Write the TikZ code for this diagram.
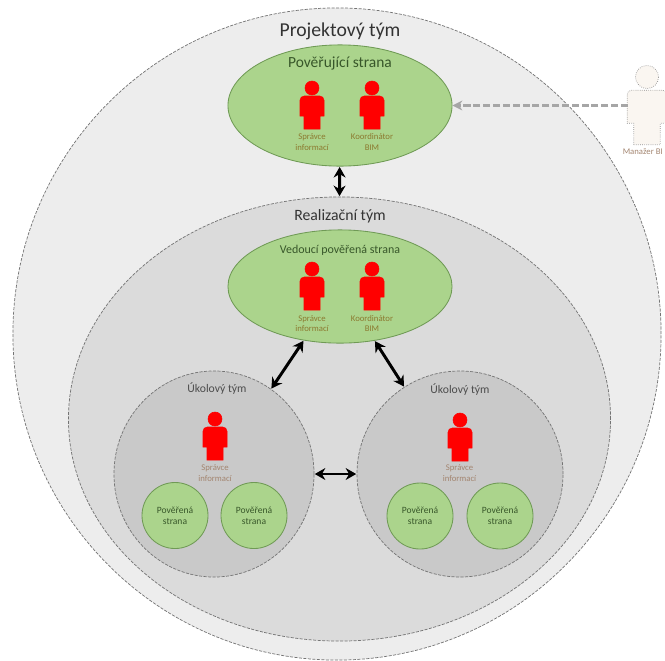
\documentclass[tikz,border=0pt]{standalone}
\usepackage{fontspec}
\setmainfont{Carlito}
\usetikzlibrary{arrows.meta,shapes.geometric}
\definecolor{teamgreen}{HTML}{ABD48C}
\definecolor{greenline}{HTML}{6F9A55}
\definecolor{titlegreen}{HTML}{38572A}
\definecolor{roleolive}{HTML}{8C7A30}
\definecolor{rolebrown}{HTML}{A38570}
\def\personfig[#1](#2,#3)(#4){\begin{scope}[shift={(#2,#3)},scale=#4]
	\draw[#1] (0,0) circle (7);
	\draw[#1] (-8,41) -- (-8,28) -- (-12,28) [rounded corners=3] -- (-12,8) -- (12,8) [sharp corners] -- (12,28) -- (8,28) -- (8,41) -- cycle;
\end{scope}}
\tikzset{
	zone/.style={ellipse,draw=black!55,dash pattern=on 2.2pt off 1pt,line width=0.5pt,inner sep=0pt},
	party/.style={ellipse,draw=greenline,fill=teamgreen,line width=0.6pt,inner sep=0pt},
	smallparty/.style={party,minimum width=1.65cm,minimum height=1.65cm,align=center,text=titlegreen,font=\fontsize{6.8}{8}\selectfont},
	role/.style={align=center,text=roleolive,font=\fontsize{6.2}{7.6}\selectfont},
	link/.style={<->,>={Stealth[length=7.5pt,width=8.5pt]},line width=2.1pt,shorten >=0.3pt,shorten <=0.3pt},
}
\begin{document}
\begin{tikzpicture}[x=0.025cm,y=-0.025cm]
			%%%%% START %%%%%
			\clip (0,0) rectangle (665,660);
			
			\node[zone,fill=black!7,minimum width=16.2cm,minimum height=16.3cm] (project) at (337,334) {};
			\node[zone,fill=black!14,minimum width=13.55cm,minimum height=11.1cm] (delivery) at (339.5,419) {};
			\node[zone,fill=black!21,minimum width=5cm,minimum height=5.15cm] (taskA) at (214,474) {};
			\node[zone,fill=black!21,minimum width=5.15cm,minimum height=5.15cm] (taskB) at (460,474) {};
			
			\node[party,minimum width=5.6cm,minimum height=3.03cm] (appointing) at (340,105.5) {};
			\node[party,minimum width=5.6cm,minimum height=2.83cm] (lead) at (340,286.5) {};
			
			\node[smallparty] (partyA) at (175,515.5) {Pověřená\\strana};
			\node[smallparty] (partyB) at (254,515.5) {Pověřená\\strana};
			\node[smallparty] (partyC) at (420,516) {Pověřená\\strana};
			\node[smallparty] (partyD) at (500,516) {Pověřená\\strana};
			
			\node[font=\fontsize{14}{16}\selectfont,text=black!80] (projecttitle) at (340,31) {Projektový tým};
			\node[font=\fontsize{11}{13}\selectfont,text=titlegreen] (appointingtitle) at (340,63) {Pověřující strana};
			\node[font=\fontsize{11.2}{13}\selectfont,text=black!80] (deliverytitle) at (340,216) {Realizační tým};
			\node[font=\fontsize{8.5}{10}\selectfont,text=titlegreen] (leadtitle) at (340,250) {Vedoucí pověřená strana};
			\node[font=\fontsize{8.3}{10}\selectfont,text=black!70] (taskAtitle) at (217,389) {Úkolový tým};
			\node[font=\fontsize{8.3}{10}\selectfont,text=black!70] (taskBtitle) at (460,390) {Úkolový tým};
			
			\personfig[fill=red,draw=red](312,88)(1)
			\personfig[fill=red,draw=red](372,88)(1)
			\personfig[fill=red,draw=red](312,269)(1)
			\personfig[fill=red,draw=red](372,269)(1)
			\personfig[fill=red,draw=red](215,419)(1)
			\personfig[fill=red,draw=red](460,420)(1)
			\personfig[fill=black!3!brown!7,draw=black!45,densely dotted,line width=0.5pt](647,77)(1.65)
			
			\node[role] (infoA) at (312,142) {Správce\\informací};
			\node[role] (coordA) at (372,142) {Koordinátor\\BIM};
			\node[role] (infoB) at (312,323.5) {Správce\\informací};
			\node[role] (coordB) at (372,323.5) {Koordinátor\\BIM};
			\node[role,text=rolebrown] (infoC) at (215,473) {Správce\\informací};
			\node[role,text=rolebrown] (infoD) at (459.5,473) {Správce\\informací};
			\node[role,text=rolebrown,anchor=west,inner sep=0pt] (manager) at (622.5,152) {Manažer BI};
			
			\draw[link] (appointing) -- (delivery.north);
			\draw[link] (lead) -- (taskA);
			\draw[link] (lead) -- (taskB);
			\draw[link] (taskA) -- (taskB);
			
			\coordinate (managerleft) at (628,105.5);
			\draw[-{Stealth[length=7pt,width=7pt]},black!35,dash pattern=on 5pt off 2pt,line width=1.5pt] (managerleft) -- (appointing);
			%%%%% END %%%%%
		\end{tikzpicture}
\end{document}
